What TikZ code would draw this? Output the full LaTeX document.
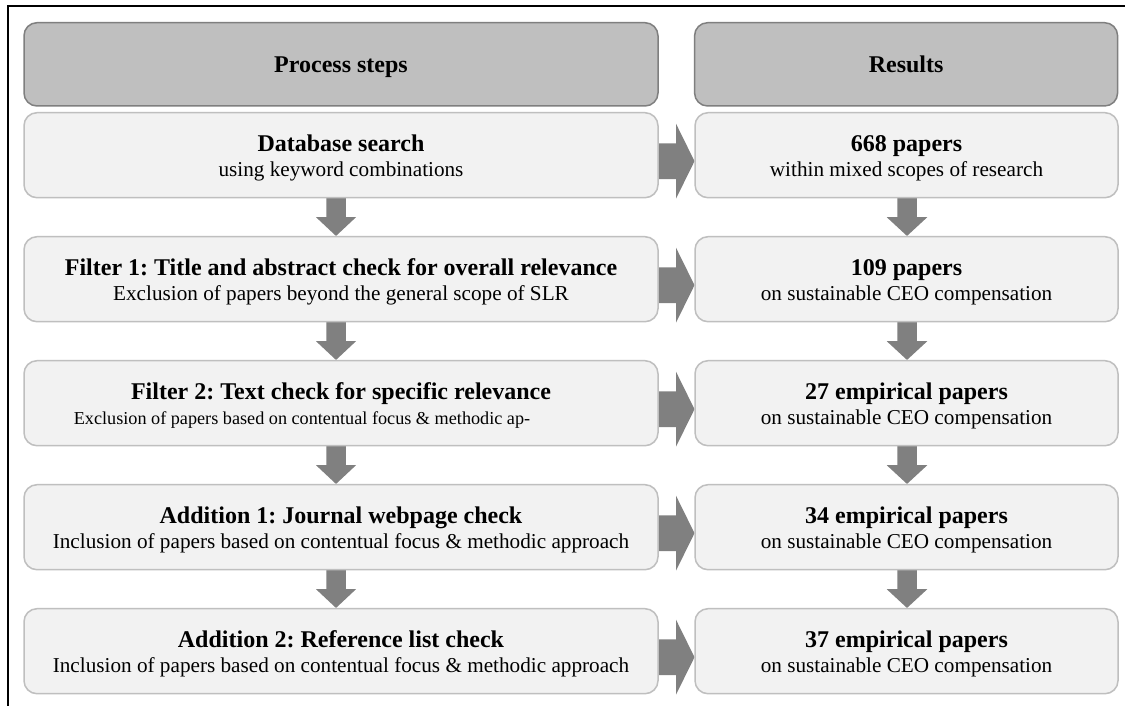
\documentclass[tikz,border=0pt]{standalone}
\usepackage{fontspec}
\setmainfont{Liberation Serif}
\frenchspacing
\usetikzlibrary{calc,backgrounds}
\definecolor{hdrfill}{HTML}{BFBFBF}
\definecolor{hdrline}{HTML}{7F7F7F}
\definecolor{boxfill}{HTML}{F2F2F2}
\definecolor{boxline}{HTML}{BFBFBF}
\definecolor{arrowgray}{HTML}{808080}

\begin{document}
\begin{tikzpicture}[x=1pt,y=-1pt,
  hdrbox/.style={draw=hdrline, fill=hdrfill, line width=1.5pt, rounded corners=13pt,
    inner sep=0pt, outer sep=0pt, minimum height=83.3pt},
  stepbox/.style={draw=boxline, fill=boxfill, line width=1.5pt, rounded corners=13pt,
    inner sep=0pt, outer sep=0pt, minimum height=85pt},
  leftcol/.style={minimum width=634pt},
  rightcol/.style={minimum width=423pt},
  blockarrow/.style={fill=arrowgray},
  titletext/.style={font=\fontsize{24}{28}\selectfont\bfseries, anchor=base, inner sep=0pt},
  subtext/.style={font=\fontsize{21.2}{25}\selectfont, anchor=base, inner sep=0pt},
  smallsub/.style={font=\fontsize{18.2}{22}\selectfont, anchor=base west, inner sep=0pt}]

\useasboundingbox (0,0) rectangle (1125,706);

% outer frame (top and left edges only)
\draw[line width=2pt] (8,706) -- (8,6) -- (1125,6);

% column headers
\node[hdrbox, leftcol]  (hl) at (341,64.35) {};
\node[hdrbox, rightcol] (hr) at (906.1,64.35) {};
\node[titletext] (hlt) at (341,72.7) {Process steps};
\node[titletext] (hrt) at (906.1,72.7) {Results};

% process step boxes
\node[stepbox, leftcol] (l0) at (341,155.2) {};
\node[stepbox, leftcol] (l1) at (341,279.2) {};
\node[stepbox, leftcol] (l2) at (341,403.2) {};
\node[stepbox, leftcol] (l3) at (341,527.2) {};
\node[stepbox, leftcol] (l4) at (341,651.2) {};

% result boxes
\node[stepbox, rightcol] (r0) at (906.5,155.2) {};
\node[stepbox, rightcol] (r1) at (906.5,279.2) {};
\node[stepbox, rightcol] (r2) at (906.5,403.2) {};
\node[stepbox, rightcol] (r3) at (906.5,527.2) {};
\node[stepbox, rightcol] (r4) at (906.5,651.2) {};

\begin{pgfonlayer}{background}
\fill[white] (0,0) rectangle (1125,706);
% downward arrows between process steps
\foreach \a/\b in {l0/l1,l1/l2,l2/l3,l3/l4}{
  \fill[blockarrow] ($(\a.south)+(-14.75,-1)$) -- ($(\a.south)+(-14.75,19.5)$)
    -- ($(\a.south)+(-25,19.5)$) -- ($(\b.north)+(-5,-0.75)$) -- ($(\a.south)+(15,19.5)$)
    -- ($(\a.south)+(4.75,19.5)$) -- ($(\a.south)+(4.75,-1)$) -- cycle;
}
% downward arrows between results
\foreach \a/\b in {r0/r1,r1/r2,r2/r3,r3/r4}{
  \fill[blockarrow] ($(\a.south)+(-9.25,-1)$) -- ($(\a.south)+(-9.25,19.5)$)
    -- ($(\a.south)+(-19.75,19.5)$) -- ($(\b.north)+(0.5,-0.75)$) -- ($(\a.south)+(20.75,19.5)$)
    -- ($(\a.south)+(10.25,19.5)$) -- ($(\a.south)+(10.25,-1)$) -- cycle;
}
% arrows from each step to its result
\foreach \a/\b in {l0/r0,l1/r1,l2/r2,l3/r3,l4/r4}{
  \fill[blockarrow] ($(\a.east)+(-1,-11.85)$) -- ($(\a.east)+(18,-11.85)$)
    -- ($(\a.east)+(18,-31.5)$) -- ($(\b.west)+(-0.5,6)$) -- ($(\a.east)+(18,43.5)$)
    -- ($(\a.east)+(18,23.85)$) -- ($(\a.east)+(-1,23.85)$) -- cycle;
}
\end{pgfonlayer}

% texts of the process steps
\node[titletext] (l0t) at (341,151.7) {Database search};
\node[subtext]   (l0s) at (341,176.4) {using keyword combinations};
\node[titletext] (l1t) at (341,275.7) {Filter 1: Title and abstract check for overall relevance};
\node[subtext]   (l1s) at (341,300.4) {Exclusion of papers beyond the general scope of SLR};
\node[titletext] (l2t) at (341,399.7) {Filter 2: Text check for specific relevance};
\node[smallsub]  (l2s) at (73.6,424.0) {Exclusion of papers based on contentual focus \& methodic ap-};
\node[titletext] (l3t) at (341,523.7) {Addition 1: Journal webpage check};
\node[subtext]   (l3s) at (341,548.4) {Inclusion of papers based on contentual focus \& methodic approach};
\node[titletext] (l4t) at (341,647.7) {Addition 2: Reference list check};
\node[subtext]   (l4s) at (341,672.4) {Inclusion of papers based on contentual focus \& methodic approach};

% texts of the results
\node[titletext] (r0t) at (906.5,151.7) {668 papers};
\node[subtext]   (r0s) at (906.5,176.4) {within mixed scopes of research};
\node[titletext] (r1t) at (906.5,275.7) {109 papers};
\node[subtext]   (r1s) at (906.5,300.4) {on sustainable CEO compensation};
\node[titletext] (r2t) at (906.5,399.7) {27 empirical papers};
\node[subtext]   (r2s) at (906.5,424.4) {on sustainable CEO compensation};
\node[titletext] (r3t) at (906.5,523.7) {34 empirical papers};
\node[subtext]   (r3s) at (906.5,548.4) {on sustainable CEO compensation};
\node[titletext] (r4t) at (906.5,647.7) {37 empirical papers};
\node[subtext]   (r4s) at (906.5,672.4) {on sustainable CEO compensation};
\end{tikzpicture}
\end{document}
